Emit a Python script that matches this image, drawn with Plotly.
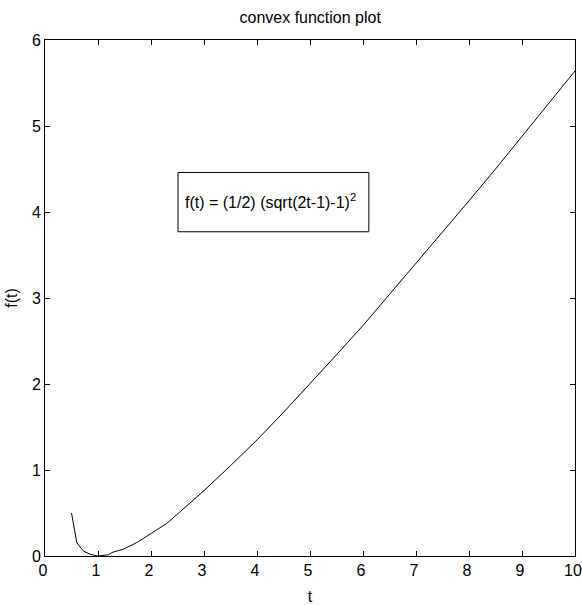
import plotly.graph_objects as go

# values
t_vals = [0.5, 0.6, 0.72, 0.85, 1.0, 1.2, 1.26, 1.48, 1.73, 2.0, 2.3, 2.55, 2.77,
          3.0, 3.5, 4.0, 4.5, 5.0, 5.5, 6.0, 6.5, 7.0, 7.5, 8.0, 8.5, 9.0, 9.5, 10.0]
f_vals = [0.50, 0.155, 0.06, 0.02, 0.0, 0.015, 0.04, 0.08, 0.155, 0.26, 0.38, 0.515, 0.63,
          0.76, 1.05, 1.35, 1.67, 2.0, 2.34, 2.68, 3.04, 3.40, 3.76, 4.13, 4.50, 4.88, 5.26, 5.64]

x_ticks = list(range(0, 11))
y_ticks = list(range(0, 7))

title_text = "convex function plot"
x_label = "t"
y_label = "f(t)"
legend_text = "f(t) = (1/2) (sqrt(2t-1)-1)<sup>2</sup>"

FONT = "Liberation Sans, Arial, sans-serif"

fig = go.Figure()
fig.add_trace(go.Scatter(x=t_vals, y=f_vals, mode="lines",
                         line=dict(color="black", width=1), showlegend=False,
                         hoverinfo="skip"))

axis_common = dict(showgrid=False, zeroline=False, showline=True, linecolor="black",
                   linewidth=1, mirror="ticks", ticks="inside", ticklen=5,
                   tickcolor="black", ticklabeloverflow="allow", automargin=False,
                   tickfont=dict(family=FONT, size=16, color="black"))

fig.update_layout(
    width=582, height=605,
    margin=dict(l=45, r=7, t=40, b=49, autoexpand=False),
    plot_bgcolor="white", paper_bgcolor="white",
    font=dict(family=FONT, size=16, color="black"),
    title=dict(text=title_text, x=0.533, xanchor="center", y=0.98, yanchor="top",
               font=dict(family=FONT, size=16, color="black")),
    xaxis=dict(range=[0, 10], tickvals=x_ticks, ticktext=[str(v) for v in x_ticks],
               ticklabelshift=-2,
               title=dict(text=x_label, standoff=12, font=dict(family=FONT, size=16)),
               **axis_common),
    yaxis=dict(range=[0, 6], tickvals=y_ticks, ticktext=[str(v) for v in y_ticks],
               title=dict(text=y_label, standoff=10, font=dict(family=FONT, size=16)),
               **axis_common),
)

# legend-like text box
fig.add_shape(type="rect", xref="x", yref="y", x0=2.51, x1=6.11, y0=3.77, y1=4.46,
              line=dict(color="black", width=1), fillcolor="white")
fig.add_annotation(xref="x", yref="y", x=4.26, y=4.13, text=legend_text, showarrow=False,
                   font=dict(family=FONT, size=16, color="black"))

fig.write_html("out.html", config={"displayModeBar": False},
               post_script="document.body.style.margin='0px';")
